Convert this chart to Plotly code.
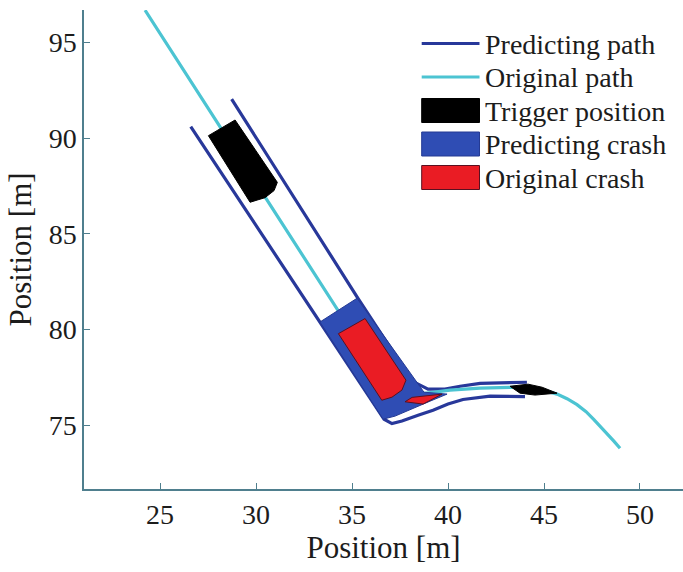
import plotly.graph_objects as go

# ---------------- data (metres) ----------------
# Predicting path: upper (right-hand) boundary and lower (left-hand) boundary
pred_upper_x = [28.73, 35.31, 38.13, 38.96, 39.84, 40.63, 41.67, 44.11]
pred_upper_y = [92.04, 81.63, 77.30, 76.88, 76.88, 77.03, 77.18, 77.24]
pred_lower_x = [26.60, 33.33, 36.67, 37.08, 37.60, 38.44, 39.22, 40.00, 40.78, 42.19, 44.01]
pred_lower_y = [90.60, 80.39, 75.31, 75.08, 75.21, 75.52, 75.78, 76.10, 76.34, 76.51, 76.49]

# Original path
orig_x = [24.22, 34.23, 35.94, 37.24, 38.02, 38.70, 40.10, 41.67, 43.39, 44.27,
          45.05, 45.68, 46.20, 46.72, 47.19, 47.60, 47.97, 48.33, 48.65, 48.96]
orig_y = [96.69, 81.09, 78.39, 76.93, 76.67, 76.65, 76.83, 76.93, 76.98, 76.93,
          76.80, 76.62, 76.38, 76.07, 75.70, 75.29, 74.90, 74.50, 74.15, 73.79]

# Trigger positions (vehicle outlines)
trig1_x = [27.52, 28.91, 31.11, 30.94, 30.47, 29.69]
trig1_y = [90.13, 90.95, 87.69, 87.26, 86.89, 86.65]
trig2_x = [43.23, 44.17, 44.90, 45.68, 44.53, 43.75]
trig2_y = [77.03, 77.14, 76.98, 76.67, 76.57, 76.67]

# Predicting crash region
pcrash_x = [33.33, 35.26, 38.75, 39.95, 39.06, 38.02, 37.24, 36.62]
pcrash_y = [80.39, 81.63, 76.72, 76.62, 76.25, 75.78, 75.47, 75.31]

# Original crash (vehicle + deformed wedge)
ocrash1_x = [34.29, 35.68, 37.81, 37.60, 37.08, 36.55]
ocrash1_y = [79.78, 80.57, 77.35, 76.83, 76.46, 76.30]
ocrash2_x = [37.76, 38.13, 39.69, 38.70]
ocrash2_y = [76.22, 76.45, 76.62, 76.10]

x_ticks = [25, 30, 35, 40, 45, 50]
y_ticks = [75, 80, 85, 90, 95]
x_range = [21.04, 52.24]
y_range = [71.66, 96.70]

legend_labels = ["Predicting path", "Original path", "Trigger position",
                 "Predicting crash", "Original crash"]

# ---------------- styles ----------------
C_PRED = "#28389a"
C_ORIG = "#4cc4d2"
C_CRASH = "#2f4db4"
C_CRASH_EDGE = "#243a94"
C_RED = "#ea1c24"
C_RED_EDGE = "#5a1020"
FONT = "Liberation Serif"
TXT = "#1c1c1c"

W, H = 683, 572
ML, MR, MT, MB = 84, 0, 10, 83
PW, PH = W - ML - MR, H - MT - MB


def closed(xs, ys):
    return list(xs) + [xs[0]], list(ys) + [ys[0]]


fig = go.Figure()

fig.add_trace(go.Scatter(
    x=pred_upper_x + [None] + pred_lower_x,
    y=pred_upper_y + [None] + pred_lower_y,
    mode="lines", name=legend_labels[0], showlegend=False,
    line=dict(color=C_PRED, width=3.2), connectgaps=False))

fig.add_trace(go.Scatter(
    x=orig_x, y=orig_y, mode="lines", name=legend_labels[1], showlegend=False,
    line=dict(color=C_ORIG, width=3.2)))

t1x, t1y = closed(trig1_x, trig1_y)
t2x, t2y = closed(trig2_x, trig2_y)
fig.add_trace(go.Scatter(
    x=t1x + [None] + t2x, y=t1y + [None] + t2y,
    mode="lines", fill="toself", name=legend_labels[2], showlegend=False,
    fillcolor="#000000", line=dict(color="#000000", width=1)))

pcx, pcy = closed(pcrash_x, pcrash_y)
fig.add_trace(go.Scatter(
    x=pcx, y=pcy, mode="lines", fill="toself", name=legend_labels[3], showlegend=False,
    fillcolor=C_CRASH, line=dict(color=C_CRASH_EDGE, width=1)))

o1x, o1y = closed(ocrash1_x, ocrash1_y)
o2x, o2y = closed(ocrash2_x, ocrash2_y)
fig.add_trace(go.Scatter(
    x=o1x + [None] + o2x, y=o1y + [None] + o2y,
    mode="lines", fill="toself", name=legend_labels[4], showlegend=False,
    fillcolor=C_RED, line=dict(color=C_RED_EDGE, width=1)))

# ---------------- legend (drawn in paper coordinates) ----------------
def px2paper_x(px):
    return (px - ML) / PW


def px2paper_y(py):
    return 1 - (py - MT) / PH


legend_kinds = [("line", C_PRED, C_PRED), ("line", C_ORIG, C_ORIG),
                ("box", "#000000", "#000000"), ("box", C_CRASH, C_CRASH_EDGE),
                ("box", C_RED, C_RED_EDGE)]
row_y0, row_step = 43.5, 33.5
sym_x0, sym_x1, text_x = 421.7, 479.5, 483.0

shapes, annotations = [], []
for i, (label, (kind, col, edge)) in enumerate(zip(legend_labels, legend_kinds)):
    cy = row_y0 + i * row_step
    if kind == "line":
        shapes.append(dict(type="line", xref="paper", yref="paper",
                           x0=px2paper_x(sym_x0), x1=px2paper_x(sym_x1),
                           y0=px2paper_y(cy), y1=px2paper_y(cy),
                           line=dict(color=col, width=3.2)))
    else:
        shapes.append(dict(type="rect", xref="paper", yref="paper",
                           x0=px2paper_x(sym_x0), x1=px2paper_x(sym_x1),
                           y0=px2paper_y(cy + 12), y1=px2paper_y(cy - 12),
                           fillcolor=col, line=dict(color=edge, width=1)))
    annotations.append(dict(text=label, xref="paper", yref="paper",
                            x=px2paper_x(text_x), y=px2paper_y(cy + 1),
                            xanchor="left", yanchor="middle", showarrow=False,
                            font=dict(family=FONT, size=28, color=TXT)))

axis_common = dict(
    showline=True, linecolor="#4f7f8e", linewidth=1.5,
    ticks="inside", ticklen=6, tickwidth=1, tickcolor="#4f7f8e",
    showgrid=False, zeroline=False, mirror=False,
    tickfont=dict(family=FONT, size=28, color=TXT),
)

fig.update_layout(
    width=W, height=H,
    margin=dict(l=ML, r=MR, t=MT, b=MB),
    paper_bgcolor="white", plot_bgcolor="white",
    font=dict(family=FONT, color=TXT),
    xaxis=dict(range=x_range, tickvals=x_ticks, **axis_common,
               title=dict(text="Position [m]", font=dict(family=FONT, size=31), standoff=4)),
    yaxis=dict(range=y_range, tickvals=y_ticks, **axis_common,
               title=dict(text="Position [m]", font=dict(family=FONT, size=31), standoff=8)),
    showlegend=False,
    shapes=shapes,
    annotations=annotations,
)

fig.write_html("out.html")
